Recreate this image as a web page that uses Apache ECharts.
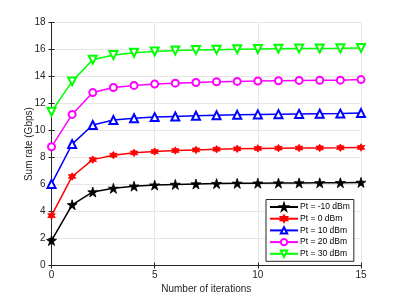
<!DOCTYPE html>
<html><head><meta charset="utf-8">
<script src="https://cdn.jsdelivr.net/npm/echarts@6/dist/echarts.min.js"></script>
<style>html,body{margin:0;padding:0;background:#fff}#c{width:399px;height:299px}</style>
</head><body><div id="c"></div>
<script>
const iterations = [0,1,2,3,4,5,6,7,8,9,10,11,12,13,14,15];
const seriesNames = ['Pt = -10 dBm','Pt = 0 dBm','Pt = 10 dBm','Pt = 20 dBm','Pt = 30 dBm'];
const ptm10 = [1.85,4.5,5.45,5.72,5.88,5.96,6.01,6.04,6.07,6.09,6.1,6.11,6.12,6.13,6.14,6.16];
const pt0   = [3.7,6.6,7.85,8.18,8.35,8.45,8.52,8.57,8.62,8.65,8.68,8.7,8.71,8.72,8.73,8.75];
const pt10  = [6.05,9.0,10.42,10.78,10.92,11.0,11.05,11.1,11.14,11.17,11.2,11.22,11.24,11.25,11.26,11.3];
const pt20  = [8.8,11.2,12.82,13.2,13.35,13.45,13.52,13.57,13.62,13.65,13.68,13.7,13.72,13.73,13.74,13.78];
const pt30  = [11.4,13.65,15.25,15.6,15.77,15.87,15.93,15.97,16.0,16.03,16.05,16.07,16.08,16.09,16.1,16.13];
const xTicks = [0,5,10,15];
const yTicks = [0,2,4,6,8,10,12,14,16,18];

const star5 = 'path://M0,-1L0.2245,-0.309L0.951,-0.309L0.363,0.118L0.588,0.809L0,0.382L-0.588,0.809L-0.363,0.118L-0.951,-0.309L-0.2245,-0.309Z';
const hexa = 'path://M0,-1L0.289,-0.5L0.866,-0.5L0.577,0L0.866,0.5L0.289,0.5L0,1L-0.289,0.5L-0.866,0.5L-0.577,0L-0.866,-0.5L-0.289,-0.5Z';
const axCol = '#262626';
const font = 'Liberation Sans, Arial, sans-serif';

const styles = [
  {data: ptm10, color: '#000000', symbol: star5, size: 10, rot: 0},
  {data: pt0, color: '#ff0000', symbol: hexa, size: 7.5, rot: 0},
  {data: pt10, color: '#0000ff', symbol: 'emptyTriangle', size: 8, rot: 0},
  {data: pt20, color: '#ff00ff', symbol: 'emptyCircle', size: 7, rot: 0},
  {data: pt30, color: '#00ff00', symbol: 'emptyTriangle', size: 8, rot: 180}
];

const chart = echarts.init(document.getElementById('c'), null, {renderer: 'canvas'});
const commonAxisLine = {show: true, lineStyle: {color: axCol, width: 1}};
chart.setOption({
  animation: false,
  backgroundColor: '#fff',
  grid: {left: 51.5, right: 38, top: 22.7, bottom: 32.3, containLabel: false},
  xAxis: [{
    type: 'value', min: 0, max: 15, interval: 5,
    name: 'Number of iterations', nameLocation: 'middle', nameGap: 18.5, nameMoveOverlap: false,
    nameTextStyle: {fontFamily: font, fontSize: 10, color: axCol},
    axisLine: commonAxisLine,
    axisTick: {show: true, inside: true, length: 3, lineStyle: {color: axCol}},
    axisLabel: {fontFamily: font, fontSize: 10, color: axCol, margin: 5,
      formatter: v => xTicks.includes(v) ? String(v) : ''},
    splitLine: {show: true, lineStyle: {color: '#e6e6e6', width: 1}}
  }, {
    type: 'value', min: 0, max: 15, interval: 5, position: 'top',
    axisLine: commonAxisLine,
    axisTick: {show: true, inside: true, length: 3, lineStyle: {color: axCol}},
    axisLabel: {show: false}, splitLine: {show: false}
  }],
  yAxis: [{
    type: 'value', min: 0, max: 18, interval: 2,
    name: 'Sum rate (Gbps)', nameLocation: 'middle', nameGap: 17.5, nameMoveOverlap: false,
    nameTextStyle: {fontFamily: font, fontSize: 10, color: axCol},
    axisLine: commonAxisLine,
    axisTick: {show: true, inside: true, length: 3, lineStyle: {color: axCol}},
    axisLabel: {fontFamily: font, fontSize: 10, color: axCol, margin: 6,
      formatter: v => yTicks.includes(v) ? String(v) : ''},
    splitLine: {show: true, lineStyle: {color: '#e6e6e6', width: 1}}
  }, {
    type: 'value', min: 0, max: 18, interval: 2, position: 'right',
    axisLine: commonAxisLine,
    axisTick: {show: true, inside: true, length: 3, lineStyle: {color: axCol}},
    axisLabel: {show: false}, splitLine: {show: false}
  }],
  legend: {
    orient: 'vertical', left: 266, top: 199.5,
    width: 86,
    backgroundColor: '#fff', borderColor: axCol, borderWidth: 1, borderRadius: 0,
    padding: [3, 4, 3, 3],
    itemWidth: 28, itemHeight: 8, itemGap: 2.7,
    textStyle: {fontFamily: font, fontSize: 8.5, color: '#000', padding: [0,0,0,-3]},
    data: seriesNames
  },
  series: styles.map((s, i) => ({
    name: seriesNames[i],
    type: 'line',
    xAxisIndex: 0, yAxisIndex: 0,
    data: iterations.map((x, j) => [x, s.data[j]]),
    symbol: s.symbol, symbolSize: s.size, symbolRotate: s.rot,
    showAllSymbol: true,
    color: s.color,
    lineStyle: {color: s.color, width: 1.5},
    itemStyle: {color: s.color, borderColor: s.color, borderWidth: s.symbol.startsWith('empty') ? 1.3 : 0.8},
    z: 2 + i
  }))
});
</script></body></html>
